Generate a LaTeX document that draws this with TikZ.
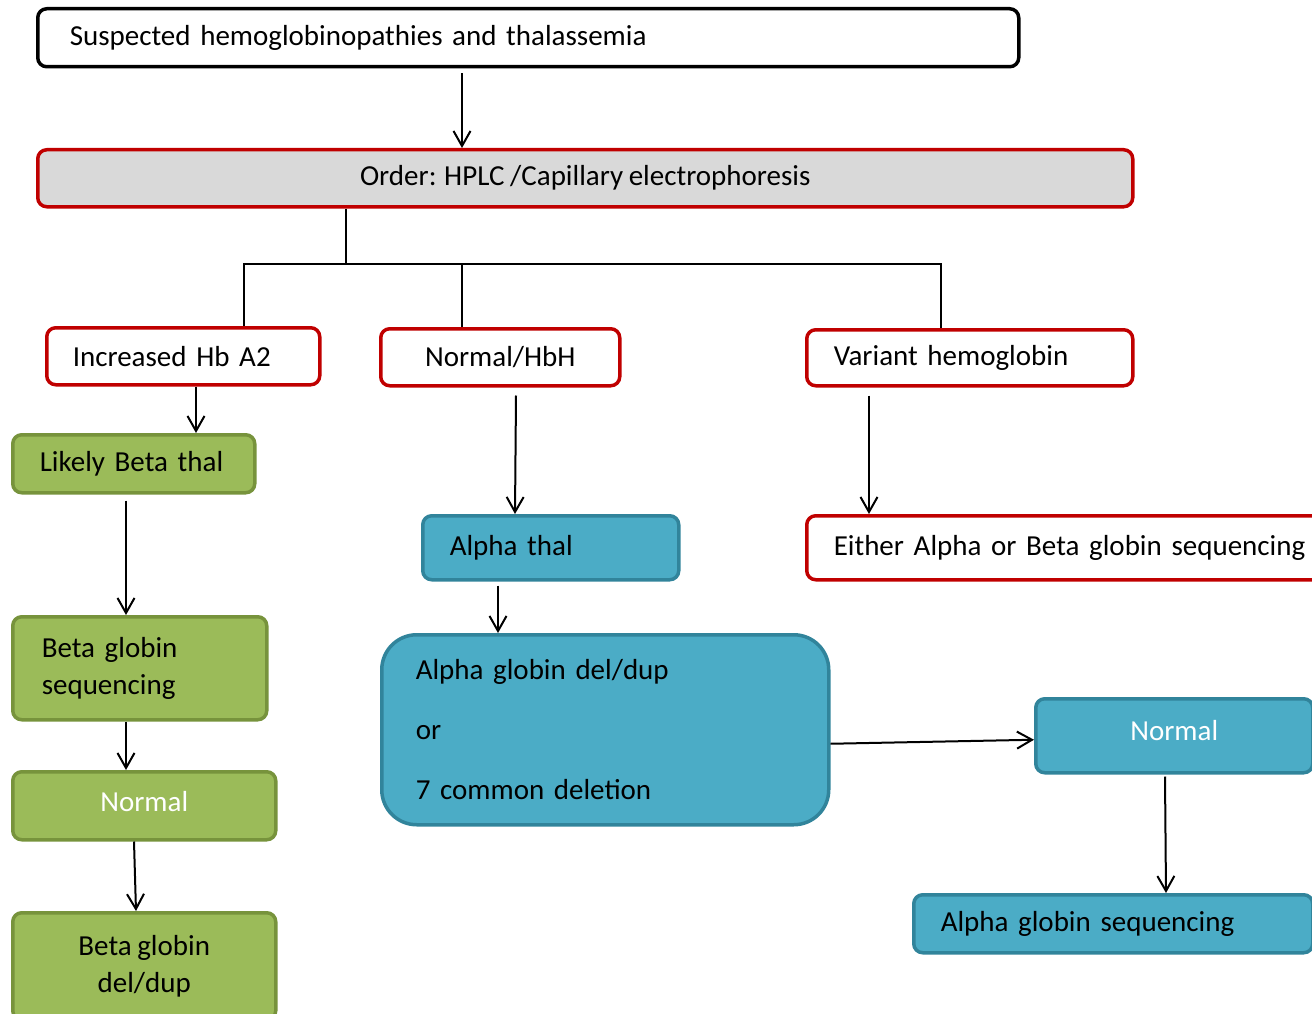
\documentclass[tikz,border=0pt]{standalone}
\usepackage{fontspec}
\setmainfont[WordSpace=0.85]{Carlito}
\definecolor{thalred}{HTML}{C00000}
\definecolor{ordergray}{HTML}{D9D9D9}
\definecolor{betagreen}{HTML}{9BBB59}
\definecolor{betaedge}{HTML}{77933C}
\definecolor{alphateal}{HTML}{4BACC6}
\definecolor{alphaedge}{HTML}{31849B}
\usetikzlibrary{arrows.meta,calc}
\tikzset{
  box/.style={rectangle, rounded corners=9pt, line width=3.5pt,
    anchor=north west, inner ysep=0pt, font=\fontsize{29}{37}\selectfont},
  blackbox/.style={box, draw=black, fill=white},
  redbox/.style={box, draw=thalred, fill=white},
  graybox/.style={box, draw=thalred, fill=ordergray},
  greenbox/.style={box, draw=betaedge, fill=betagreen},
  tealbox/.style={box, draw=alphaedge, fill=alphateal},
  arr/.style={-{Straight Barb[length=15pt,width=17pt]}, line width=2pt},
  tree/.style={line width=1.5pt}
}

\begin{document}
\begin{tikzpicture}[x=1pt, y=-1pt]
  \useasboundingbox (0,0) rectangle (1312,1014);
  % top of the chart
  \node[blackbox, minimum width=981pt, minimum height=58pt,
    inner xsep=32pt, text width=917pt, align=left, text depth=4pt] (susp) at (36,7)
    {Suspected hemoglobinopathies and thalassemia};
  \node[graybox, minimum width=1095pt, minimum height=57pt,
    align=center] (order) at (36,148)
    {Order: HPLC /Capillary electrophoresis};
  % results
  \node[redbox, minimum width=273pt, minimum height=57pt,
    inner xsep=26pt, text width=221pt, align=left] (incr) at (45,326)
    {Increased Hb A2};
  \node[redbox, minimum width=239pt, minimum height=57pt,
    align=center] (normhbh) at (379,327)
    {Normal/HbH};
  \node[redbox, minimum width=326pt, minimum height=56pt,
    inner xsep=27pt, text width=272pt, align=left] (variant) at (805,328)
    {Variant hemoglobin};
  % beta branch
  \node[greenbox, minimum width=242pt, minimum height=58pt,
    inner xsep=27pt, text width=188pt, align=left] (likely) at (11,433)
    {Likely Beta thal};
  \node[greenbox, minimum width=254pt, minimum height=103pt,
    inner xsep=29pt, text width=196pt, align=left] (betaseq) at (11,615)
    {Beta globin\\sequencing};
  \node[greenbox, minimum width=263pt, minimum height=68pt,
    align=center, text=white, text depth=8pt] (normgreen) at (11,770)
    {Normal};
  \node[greenbox, minimum width=263pt, minimum height=107pt,
    align=center] (betadel) at (11,911)
    {Beta globin\\del/dup};
  % alpha branch
  \node[tealbox, minimum width=256pt, minimum height=64pt,
    inner xsep=27pt, text width=202pt, align=left] (alphathal) at (421,514)
    {Alpha thal};
  \node[tealbox, rounded corners=35pt, minimum width=447pt, minimum height=190pt,
    inner xsep=34pt, text width=379pt, align=left] (alphadel) at (380,633)
    {Alpha globin del/dup\\[23pt]or\\[23pt]7 common deletion};
  \node[tealbox, minimum width=277pt, minimum height=74pt,
    align=center, text=white, text depth=10pt] (normteal) at (1034,697)
    {Normal};
  \node[tealbox, minimum width=399pt, minimum height=58pt,
    inner xsep=27pt, text width=345pt, align=left] (alphaseq) at (912,893)
    {Alpha globin sequencing};
  % variant branch
  \node[redbox, minimum width=554pt, minimum height=64pt,
    inner xsep=27pt, text width=500pt, align=left] (either) at (805,514)
    {Either Alpha or Beta globin sequencing};

  \coordinate (junc) at (346,264);

  \draw[arr] ([xshift=426pt,yshift=-5pt]susp.south west)
    -- ([xshift=426pt]susp.south west |- order.north);
  \draw[tree] (junc |- order.south) -- (junc);
  \draw[tree] ([xshift=199pt]incr.north west) |- (junc)
    -| ([xshift=136pt]variant.north west);
  \draw[tree] ([xshift=83pt]normhbh.north west)
    -- ([xshift=83pt]normhbh.north west |- junc);

  \draw[arr] ([xshift=151pt]incr.south west)
    -- ([xshift=151pt]incr.south west |- likely.north);
  \draw[arr] ([xshift=115pt,yshift=-6pt]likely.south west)
    -- ([xshift=115pt]likely.south west |- betaseq.north);
  \draw[arr] ([xshift=115pt]betaseq.south west)
    -- ([xshift=115pt]betaseq.south west |- normgreen.north);
  \draw[arr] ([xshift=123pt]normgreen.south west)
    -- ([xshift=125pt]betadel.north west);

  \draw[arr] ([xshift=137pt,yshift=-8pt]normhbh.south west)
    -- ([xshift=94pt]alphathal.north west);
  \draw[arr] ([xshift=77pt,yshift=-4pt]alphathal.south west)
    -- ([xshift=77pt]alphathal.south west |- alphadel.north);
  \draw[arr] ([yshift=-14pt]alphadel.east) -- ([yshift=-4pt]normteal.west);
  \draw[arr] ([xshift=131pt,yshift=-2pt]normteal.south west)
    -- ([xshift=254pt]alphaseq.north west);

  \draw[arr] ([xshift=64pt,yshift=-8pt]variant.south west)
    -- ([xshift=64pt]variant.south west |- either.north);
\end{tikzpicture}
\end{document}
